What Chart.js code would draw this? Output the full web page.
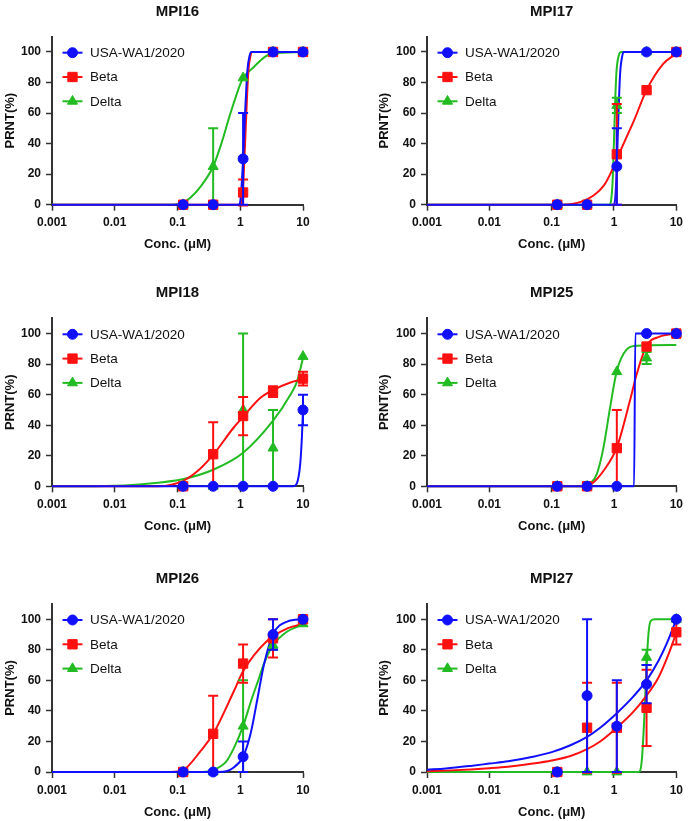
<!DOCTYPE html>
<html>
<head>
<meta charset="utf-8">
<script src="https://cdn.jsdelivr.net/npm/chart.js@4.4.1/dist/chart.umd.min.js"></script>
<style>
  html, body { margin: 0; padding: 0; background: #fff; }
  #page { position: relative; width: 688px; height: 821px; overflow: hidden; }
  #page canvas { position: absolute; }
</style>
</head>
<body>
<div id="page"></div>
<script>
// Shared axis values
const conc = [0.123, 0.37, 1.11, 3.33, 10];
const xTicks = [0.001, 0.01, 0.1, 1, 10];
const xTickLabels = ['0.001', '0.01', '0.1', '1', '10'];
const yTicks = [0, 20, 40, 60, 80, 100];
const seriesNames = ['USA-WA1/2020', 'Beta', 'Delta'];
const panelTitles = ['MPI16', 'MPI17', 'MPI18', 'MPI25', 'MPI26', 'MPI27'];

// MPI16
const mpi16Usa = [0, 0, 30, 100, 100];
const mpi16UsaSd = [0, 0, 30, 0, 0];
const mpi16Beta = [0, 0, 8, 100, 100];
const mpi16BetaSd = [0, 0, 8.5, 0, 0];
const mpi16Delta = [0, 25, 83, 100, 100];
const mpi16DeltaSd = [0, 25, 0, 0, 0];
const mpi16UsaFit = [[0.001, 0], [0.95, 0], [1.0, 2], [1.05, 12], [1.11, 30], [1.2, 62], [1.3, 88], [1.4, 97], [1.5, 100], [10, 100]];
const mpi16BetaFit = [[0.001, 0], [1.0, 0], [1.08, 5], [1.15, 25], [1.25, 60], [1.35, 88], [1.45, 97], [1.55, 100], [10, 100]];
const mpi16DeltaFit = [[0.001, 0], [0.08, 0], [0.12, 1], [0.16, 4.5], [0.23, 11.5], [0.37, 25], [0.5, 40], [0.7, 60], [1.0, 79], [1.11, 83], [1.63, 90], [2.5, 97], [3.33, 99], [10, 100]];

// MPI17
const mpi17Usa = [0, 0, 25, 100, 100];
const mpi17UsaSd = [0, 0, 25, 0, 0];
const mpi17Beta = [0, 0, 33, 75, 100];
const mpi17BetaSd = [0, 0, 33, 0, 0];
const mpi17Delta = [0, 0, 65, 100, 100];
const mpi17DeltaSd = [0, 0, 5, 0, 0];
const mpi17UsaFit = [[0.001, 0], [1.0, 0], [1.05, 5], [1.11, 25], [1.17, 55], [1.25, 85], [1.35, 97], [1.45, 100], [10, 100]];
const mpi17BetaFit = [[0.001, 0], [0.15, 0], [0.21, 0.5], [0.3, 2], [0.47, 6], [0.7, 13], [0.87, 20], [1.11, 30], [1.5, 42], [2.04, 54], [3.33, 75], [6.1, 92], [10, 99]];
const mpi17DeltaFit = [[0.001, 0], [0.85, 0], [0.9, 3], [0.95, 15], [1.0, 42], [1.05, 70], [1.1, 88], [1.2, 98], [1.3, 100], [10, 100]];

// MPI18
const mpi18Usa = [0, 0, 0, 0, 50];
const mpi18UsaSd = [0, 0, 0, 0, 10];
const mpi18Beta = [0, 21, 46, 62, 70.5];
const mpi18BetaSd = [0, 21, 12.5, 3.5, 4.5];
const mpi18Delta = [0, 0, 50, 25, 85];
const mpi18DeltaSd = [0, 0, 50, 25, 0];
const mpi18UsaFit = [[0.001, 0], [7.0, 0], [8.0, 2], [9.0, 14], [9.6, 32], [10, 50]];
const mpi18BetaFit = [[0.001, 0], [0.05, 0], [0.08, 1], [0.123, 3.5], [0.23, 11.5], [0.377, 21], [0.787, 38.5], [1.11, 45.5], [2.1, 58], [3.33, 63], [6.3, 68], [10, 70]];
const mpi18DeltaFit = [[0.001, 0], [0.005, 0], [0.01, 0.3], [0.03, 1.5], [0.125, 4.8], [0.377, 11], [1.11, 22], [3.33, 43], [6.3, 60], [8.1, 69], [10, 84]];

// MPI25
const mpi25Usa = [0, 0, 0, 100, 100];
const mpi25UsaSd = [0, 0, 0, 0, 0];
const mpi25Beta = [0, 0, 25, 91.5, 100];
const mpi25BetaSd = [0, 0, 25, 0, 0];
const mpi25Delta = [0, 0, 75, 84, 100];
const mpi25DeltaSd = [0, 0, 0, 4, 0];
const mpi25UsaFit = [[0.001, 0], [2.1, 0], [2.2, 100], [10, 100]];
const mpi25BetaFit = [[0.001, 0], [0.35, 0], [0.45, 2], [0.675, 10], [1.11, 25.5], [1.8, 56], [2.3, 73], [3.33, 92], [5.4, 98], [10, 100]];
const mpi25DeltaFit = [[0.001, 0], [0.35, 0], [0.41, 1.5], [0.53, 8], [0.675, 25], [0.865, 51.5], [1.11, 75.5], [1.59, 89.5], [2.3, 92], [10, 92.5]];

// MPI26
const mpi26Usa = [0, 0, 10, 90, 100];
const mpi26UsaSd = [0, 0, 10, 10, 0];
const mpi26Beta = [0, 25, 71, 87.5, 100];
const mpi26BetaSd = [0, 25, 12.5, 12.5, 0];
const mpi26Delta = [0, 0, 30, 83, 97];
const mpi26DeltaSd = [0, 0, 30, 3, 0];
const mpi26UsaFit = [[0.001, 0], [0.45, 0], [0.6, 0.5], [0.787, 3], [1.11, 10], [1.46, 25], [1.86, 47], [2.38, 70], [3.33, 90], [5.6, 98.5], [10, 100]];
const mpi26BetaFit = [[0.001, 0], [0.077, 0], [0.125, 1.5], [0.231, 13.5], [0.377, 25.5], [0.787, 52.7], [1.11, 66], [2.69, 86], [5.6, 94], [10, 97]];
const mpi26DeltaFit = [[0.001, 0], [0.25, 0], [0.377, 1.5], [0.6, 7], [0.787, 15.5], [1.11, 30], [1.5, 47], [1.86, 58], [2.5, 73], [3.33, 83], [5.6, 92], [10, 96.5]];

// MPI27
const mpi27Usa = [0, 50, 30, 57.5, 100];
const mpi27UsaSd = [0, 50, 30, 12.5, 0];
const mpi27Beta = [0, 29, 29, 42, 91.5];
const mpi27BetaSd = [0, 29.5, 29.5, 25, 8];
const mpi27Delta = [0, 0, 0, 75, 100];
const mpi27DeltaSd = [0, 0, 0, 5, 0];
const mpi27UsaFit = [[0.001, 1.5], [0.002, 2.3], [0.005, 4], [0.01, 5.5], [0.02, 7], [0.05, 10], [0.1, 13], [0.2, 17.5], [0.37, 23], [0.6, 29], [1.11, 38.5], [2, 49], [3.33, 60], [5.2, 73], [7, 84], [10, 100]];
const mpi27BetaFit = [[0.001, 0.5], [0.002, 0.9], [0.005, 1.7], [0.01, 2.5], [0.02, 3.5], [0.05, 5.5], [0.1, 7.5], [0.2, 10.5], [0.37, 15], [0.6, 20], [1.11, 29], [2, 39], [3.33, 50], [5.2, 62], [7, 74], [10, 91]];
const mpi27DeltaFit = [[0.001, 0], [2.5, 0], [2.8, 8], [3.1, 40], [3.33, 70], [3.6, 92], [3.9, 99], [4.5, 100], [10, 100]];

const panels = [
  { means: [mpi16Usa, mpi16Beta, mpi16Delta], sds: [mpi16UsaSd, mpi16BetaSd, mpi16DeltaSd], fits: [mpi16UsaFit, mpi16BetaFit, mpi16DeltaFit] },
  { means: [mpi17Usa, mpi17Beta, mpi17Delta], sds: [mpi17UsaSd, mpi17BetaSd, mpi17DeltaSd], fits: [mpi17UsaFit, mpi17BetaFit, mpi17DeltaFit] },
  { means: [mpi18Usa, mpi18Beta, mpi18Delta], sds: [mpi18UsaSd, mpi18BetaSd, mpi18DeltaSd], fits: [mpi18UsaFit, mpi18BetaFit, mpi18DeltaFit] },
  { means: [mpi25Usa, mpi25Beta, mpi25Delta], sds: [mpi25UsaSd, mpi25BetaSd, mpi25DeltaSd], fits: [mpi25UsaFit, mpi25BetaFit, mpi25DeltaFit] },
  { means: [mpi26Usa, mpi26Beta, mpi26Delta], sds: [mpi26UsaSd, mpi26BetaSd, mpi26DeltaSd], fits: [mpi26UsaFit, mpi26BetaFit, mpi26DeltaFit] },
  { means: [mpi27Usa, mpi27Beta, mpi27Delta], sds: [mpi27UsaSd, mpi27BetaSd, mpi27DeltaSd], fits: [mpi27UsaFit, mpi27BetaFit, mpi27DeltaFit] }
];

// Styles for each series (same order as seriesNames)
const seriesStyles = [
  { color: '#1010ff', pointStyle: 'circle', radius: 5 },
  { color: '#ff1010', pointStyle: 'rect', radius: 6.6 },
  { color: '#22bb22', pointStyle: 'triangle', radius: 5.8 }
];

const FONT = '"Liberation Sans", Arial, Helvetica, sans-serif';
const TEXT = '#111';
const AXIS = '#333';
Chart.defaults.font.family = FONT;
Chart.defaults.color = TEXT;

// Layout of the 2 x 3 grid (page pixels)
const cols = [
  { left: 0, areaLeft: 52, areaRight: 303, padLeft: 0 },
  { left: 344, areaLeft: 427, areaRight: 677, padLeft: 30 }
];
const rows = [
  { top: 0, height: 274, areaBottom: 204.7 },
  { top: 274, height: 274, areaBottom: 486.3 },
  { top: 548, height: 273, areaBottom: 772 }
];
const areaHeight = 168;
const xAxisHeight = 48;

// Vertical error bars with caps, drawn just before each marker dataset
const errorBars = {
  id: 'errorBars',
  beforeDatasetDraw(chart, args) {
    const ds = chart.data.datasets[args.index];
    if (!ds.sd) return;
    const { ctx, scales: { x, y } } = chart;
    ctx.save();
    ctx.strokeStyle = ds.borderColor;
    ctx.lineWidth = 2;
    ds.data.forEach((p, i) => {
      const e = ds.sd[i];
      if (!e) return;
      const px = x.getPixelForValue(p.x);
      const hi = y.getPixelForValue(p.y + e);
      const lo = y.getPixelForValue(p.y - e);
      ctx.beginPath();
      ctx.moveTo(px, hi); ctx.lineTo(px, lo);
      ctx.moveTo(px - 5, hi); ctx.lineTo(px + 5, hi);
      ctx.moveTo(px - 5, lo); ctx.lineTo(px + 5, lo);
      ctx.stroke();
    });
    ctx.restore();
  }
};

// Legend inside the plot, top left, with line + marker symbols
const insideLegend = {
  id: 'insideLegend',
  afterDatasetsDraw(chart) {
    const { ctx, chartArea } = chart;
    ctx.save();
    seriesStyles.forEach((s, i) => {
      const y = chartArea.top + 16 + i * 24.3;
      const cx = chartArea.left + 20.5;
      ctx.strokeStyle = s.color;
      ctx.fillStyle = s.color;
      ctx.lineWidth = 2;
      ctx.beginPath();
      ctx.moveTo(cx - 10, y);
      ctx.lineTo(cx + 10, y);
      ctx.stroke();
      ctx.lineWidth = 1;
      Chart.helpers.drawPoint(ctx, { pointStyle: s.pointStyle, radius: s.radius, borderWidth: 1, rotation: 0 }, cx, y);
      ctx.fillStyle = TEXT;
      ctx.font = '13.5px ' + FONT;
      ctx.textAlign = 'left';
      ctx.textBaseline = 'middle';
      ctx.fillText(seriesNames[i], chartArea.left + 38, y + 0.5);
    });
    ctx.restore();
  }
};

// Panel title centred over the plot area
const panelTitle = {
  id: 'panelTitle',
  afterDraw(chart, args, opts) {
    const { ctx, chartArea } = chart;
    ctx.save();
    ctx.font = 'bold 15px ' + FONT;
    ctx.fillStyle = TEXT;
    ctx.textAlign = 'center';
    ctx.textBaseline = 'middle';
    ctx.fillText(opts.text, (chartArea.left + chartArea.right) / 2, chartArea.top - 25);
    ctx.restore();
  }
};

const page = document.getElementById('page');

panels.forEach((panel, i) => {
  const c = cols[i % 2];
  const r = rows[Math.floor(i / 2)];
  const canvas = document.createElement('canvas');
  canvas.width = 344;
  canvas.height = r.height;
  canvas.style.left = c.left + 'px';
  canvas.style.top = r.top + 'px';
  canvas.style.width = '344px';
  canvas.style.height = r.height + 'px';
  page.appendChild(canvas);

  const yAxisWidth = c.areaLeft - c.left - c.padLeft;

  // Fitted curves first (drawn underneath), then markers
  const curveSets = panel.fits.map((fit, k) => ({
    label: seriesNames[k] + ' fit',
    data: fit.map(p => ({ x: p[0], y: p[1] })),
    borderColor: seriesStyles[k].color,
    borderWidth: 2,
    pointRadius: 0,
    cubicInterpolationMode: 'monotone',
    fill: false,
    clip: false,
    order: 1
  }));
  const pointSets = panel.means.map((vals, k) => ({
    label: seriesNames[k],
    data: vals.map((v, j) => ({ x: conc[j], y: v })),
    sd: panel.sds[k],
    showLine: false,
    borderColor: seriesStyles[k].color,
    backgroundColor: seriesStyles[k].color,
    pointStyle: seriesStyles[k].pointStyle,
    pointRadius: seriesStyles[k].radius,
    pointBorderWidth: 1,
    clip: false,
    order: 0
  }));

  new Chart(canvas, {
    type: 'line',
    data: { datasets: curveSets.concat(pointSets) },
    options: {
      responsive: false,
      animation: false,
      devicePixelRatio: 1,
      events: [],
      layout: {
        padding: {
          left: c.padLeft,
          right: c.left + 344 - c.areaRight,
          top: r.areaBottom - areaHeight - r.top,
          bottom: r.top + r.height - r.areaBottom - xAxisHeight
        }
      },
      plugins: {
        legend: { display: false },
        tooltip: { enabled: false },
        panelTitle: { text: panelTitles[i] }
      },
      scales: {
        x: {
          type: 'logarithmic',
          min: 0.001,
          max: 10,
          afterBuildTicks: s => { s.ticks = xTicks.map(v => ({ value: v })); },
          afterFit: s => { s.height = xAxisHeight; },
          ticks: {
            callback: (v, idx) => xTickLabels[idx],
            font: { size: 12, weight: 'bold' },
            color: TEXT,
            padding: 5,
            maxRotation: 0,
            autoSkip: false
          },
          grid: { drawOnChartArea: false, drawTicks: true, tickLength: 6, tickColor: AXIS, tickWidth: 1.5 },
          border: { display: true, color: AXIS, width: 2 },
          title: { display: true, text: 'Conc. (μM)', font: { size: 13, weight: 'bold' }, color: TEXT, padding: 0 }
        },
        y: {
          min: 0,
          max: 110,
          afterBuildTicks: s => { s.ticks = yTicks.map(v => ({ value: v })); },
          afterFit: s => { s.width = yAxisWidth; },
          ticks: {
            font: { size: 12, weight: 'bold' },
            color: TEXT,
            padding: 5
          },
          grid: { drawOnChartArea: false, drawTicks: true, tickLength: 6, tickColor: AXIS, tickWidth: 1.5 },
          border: { display: true, color: AXIS, width: 2 },
          title: { display: true, text: 'PRNT(%)', font: { size: 13, weight: 'bold' }, color: TEXT, padding: { top: 3, bottom: 0 } }
        }
      }
    },
    plugins: [errorBars, insideLegend, panelTitle]
  });
});
</script>
</body>
</html>
